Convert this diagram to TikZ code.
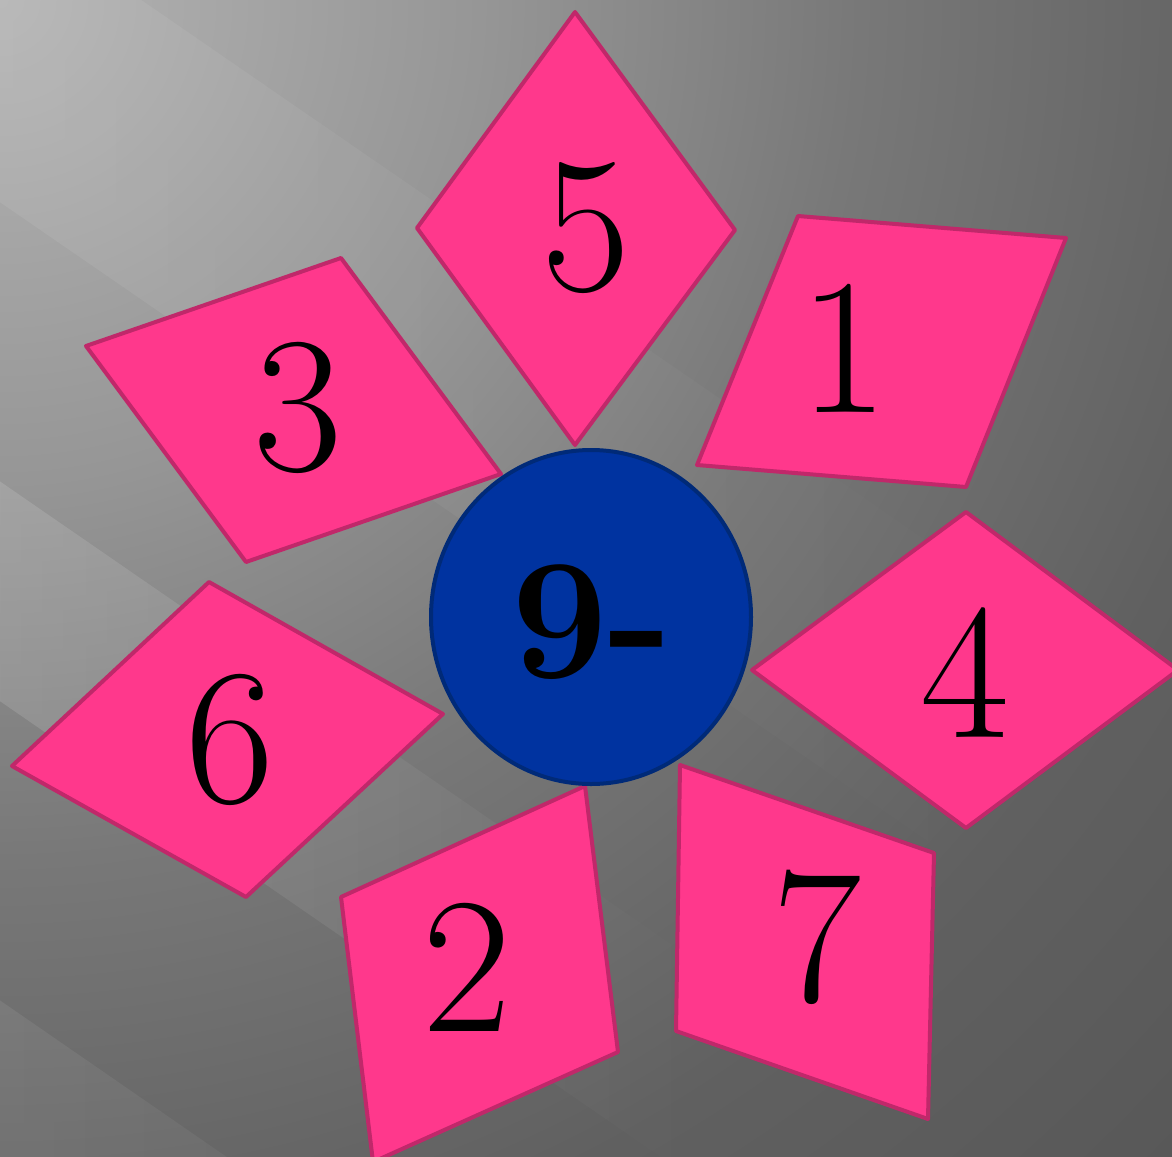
\documentclass[tikz,border=0pt]{standalone}
\usepackage{fontspec}
\usetikzlibrary{fadings}
\definecolor{pinkfill}{HTML}{FF388C}
\definecolor{pinkline}{HTML}{C0286A}
\definecolor{bluefill}{HTML}{0033A0}
\definecolor{blueline}{HTML}{002A78}
\definecolor{bgA}{RGB}{180,180,180}
\definecolor{bgB}{RGB}{150,150,150}
\definecolor{bgC}{RGB}{120,120,120}
\definecolor{bgD}{RGB}{104,104,104}
\definecolor{bgE}{RGB}{96,96,96}
\definecolor{bgF}{RGB}{88,88,88}
\pgfdeclareradialshading{bgshade}{\pgfpoint{0bp}{0bp}}{color(0bp)=(bgA); color(7.27bp)=(bgB); color(13.03bp)=(bgC); color(17.42bp)=(bgD); color(19.7bp)=(bgE); color(25bp)=(bgF); color(50bp)=(bgF)}
\tikzfading[name=fadeA, left color=transparent!20, middle color=transparent!0, right color=transparent!100]
\tikzfading[name=fadeMid, left color=transparent!100, middle color=transparent!0, right color=transparent!100]
\tikzfading[name=fadeRight, left color=transparent!0, right color=transparent!100]
\tikzset{
  petal/.style={fill=pinkfill, draw=pinkline, line width=4pt, line join=round},
  num/.style={inner sep=0pt, text=black, font=\fontsize{194}{194}\selectfont},
  hub/.style={fill=bluefill, draw=blueline, line width=4pt},
  streak/.style={fill=white, draw=none}
}
\begin{document}
\begin{tikzpicture}[x=1pt,y=-1pt]
\useasboundingbox (0,0) rectangle (1172,1156);
\begin{scope}
  \clip (0,0) rectangle (1172,1156);
  \shade[shading=bgshade] (0,0) circle (1650);
  % light streaks (slope 0.69)
  \fill[streak, fill opacity=0.10, path fading=fadeA] (-50,-134.5) -- (1000,590) -- (1000,890) -- (-50,165.5) -- cycle;
  \fill[streak, fill opacity=0.13, path fading=fadeMid] (150,3.5) -- (900,521) -- (900,751) -- (150,233.5) -- cycle;
  \fill[streak, fill opacity=0.14, path fading=fadeRight] (-50,445.5) -- (700,963) -- (700,1183) -- (-50,665.5) -- cycle;
  \fill[streak, fill opacity=0.08, path fading=fadeRight] (-50,965.5) -- (550,1380) -- (550,1580) -- (-50,1165.5) -- cycle;
\end{scope}

% petals
\draw[petal] (575,12) -- (735,230) -- (575,445) -- (417,228) -- cycle;
\draw[petal] (798,216) -- (1066,238) -- (966,487) -- (697,465) -- cycle;
\draw[petal] (86,346) -- (341,258) -- (501,474) -- (246,562) -- cycle;
\draw[petal] (752,670) -- (966,512) -- (1178,670) -- (966,828) -- cycle;
\draw[petal] (12,766) -- (209,582) -- (443,714) -- (246,897) -- cycle;
\draw[petal] (341,897) -- (585,786) -- (618,1052) -- (373,1162) -- cycle;
\draw[petal] (680,765) -- (934,853) -- (928,1119) -- (676,1031) -- cycle;

% hub
\draw[hub] (591,617) ellipse [x radius=160, y radius=167];

% labels
\node[num] (n5) at (586,228) {5};
\node[num] (n1) at (844,348) {1};
\node[num] (n3) at (298,408) {3};
\node[num] (n4) at (965,673) {4};
\node[num] (n6) at (230,740) {6};
\node[num] (n2) at (467,967) {2};
\node[num] (n7) at (817,937) {7};
\node[inner sep=0pt, text=black, font=\fontsize{172}{172}\selectfont\bfseries] (n9) at (592,622) {9-};
\end{tikzpicture}
\end{document}
